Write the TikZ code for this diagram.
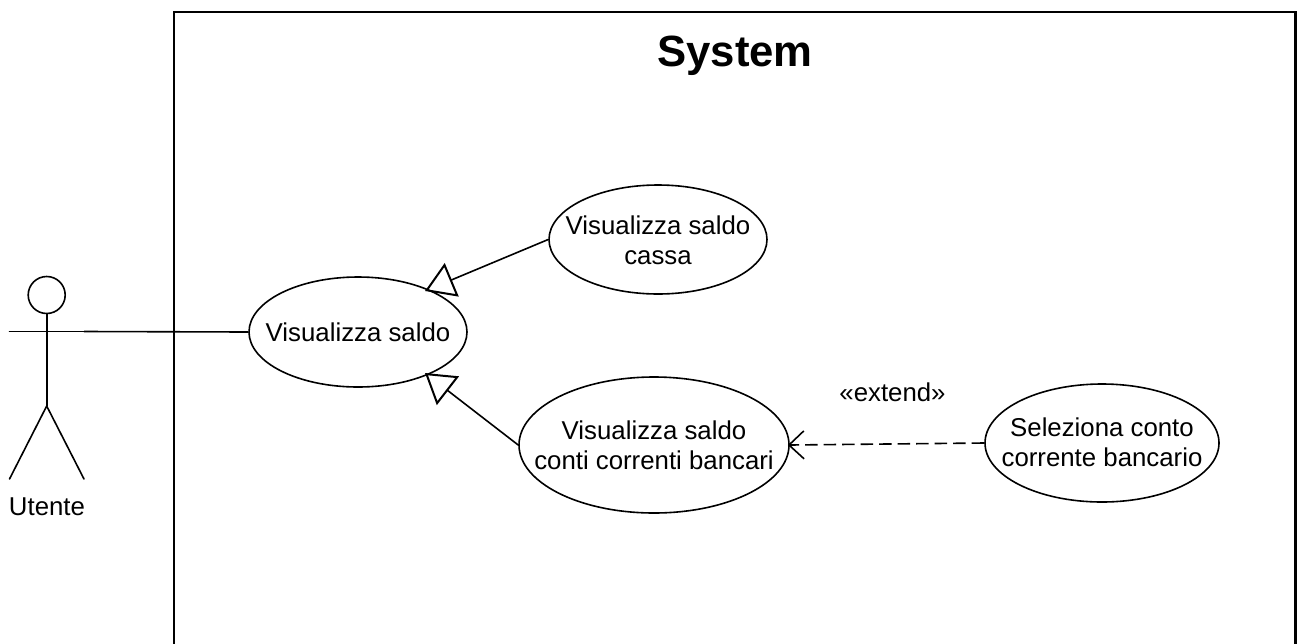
\documentclass[tikz,border=0pt]{standalone}
\usepackage{fontspec}
\setmainfont{Liberation Sans}
\usetikzlibrary{arrows.meta,shapes.geometric}
\tikzset{
  x=1pt,y=-1pt,
  usecase/.style={draw=black,line width=1.6pt,ellipse,inner sep=0pt},
  case text/.style={inner sep=0pt,align=center,font=\fontsize{25.8}{30}\selectfont},
  label text/.style={inner sep=0pt,anchor=base,font=\fontsize{25.8}{30}\selectfont},
  actor/.style={draw=black,line width=1.6pt,line cap=round},
  assoc/.style={draw=black,line width=1.6pt},
  gener/.style={assoc,-{Triangle[open,length=29pt,width=36pt,line width=2pt]}},
  depend/.style={assoc,dash pattern=on 12.5pt off 6pt,shorten >=-2pt,-{Straight Barb[length=15pt,width=28pt,line width=1.6pt]}},
}
\begin{document}
\begin{tikzpicture}
\useasboundingbox (0,0) rectangle (1297,643);
\fill[white] (0,0) rectangle (1297,643);
\draw[black,line width=2.4pt] (174,660) -- (174,12) -- (1295.5,12) -- (1295.5,660);
\node[inner sep=0pt,anchor=base,font=\bfseries\fontsize{43.7}{50}\selectfont] (title) at (735,66) {System};
\node[usecase,minimum width=218pt,minimum height=110pt] (vs) at (358,332) {};
\node[case text] (vst) at (358,332.5) {Visualizza saldo};
\node[usecase,minimum width=218pt,minimum height=109pt] (vc) at (658,239.5) {};
\node[case text] (vct) at (658,240.5) {Visualizza saldo\\cassa};
\node[usecase,minimum width=270pt,minimum height=136pt] (vb) at (654,445) {};
\node[case text] (vbt) at (654,445.5) {Visualizza saldo\\conti correnti bancari};
\node[usecase,minimum width=234pt,minimum height=118pt] (sc) at (1102,443) {};
\node[case text] (sct) at (1102,442.5) {Seleziona conto\\corrente bancario};
\node[label text] (ext) at (892.5,401.5) {«extend»};
\node[label text] (ut) at (47,515) {Utente};
% actor
\node[draw=black,line width=1.6pt,circle,minimum size=37pt,inner sep=0pt] (head) at (46.7,295) {};
\coordinate (hip) at (46.7,406);
\coordinate (lf) at (9.5,479);
\coordinate (rf) at (84,479);
\coordinate (la) at (9.5,331.5);
\coordinate (ra) at (84,331.5);
\draw[actor] (head.south) -- (hip);
\draw[actor] (lf) -- (hip) -- (rf);
\draw[actor] (la) -- (ra);
\draw[assoc] (ra) -- (vs.west);
\coordinate (t1) at (425,291);
\coordinate (t2) at (425,373);
\draw[gener] (vc.west) -- (t1);
\draw[gener] (vb.west) -- (t2);
\draw[depend] (sc.west) -- (vb.east);
\end{tikzpicture}
\end{document}
